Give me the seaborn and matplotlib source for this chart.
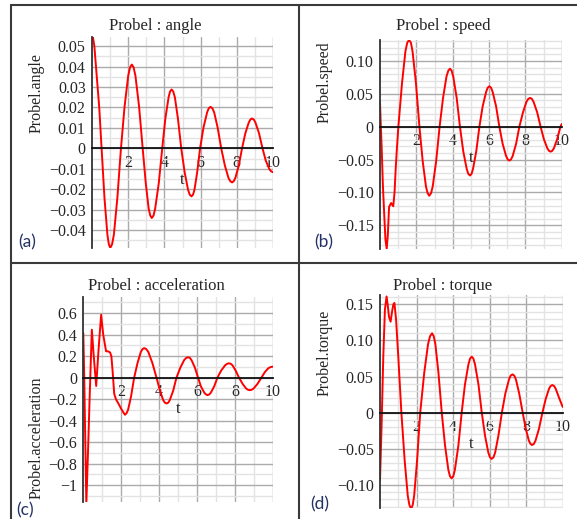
import matplotlib
matplotlib.use("Agg")
import matplotlib.pyplot as plt
import seaborn as sns
from matplotlib.lines import Line2D
from matplotlib.ticker import FixedLocator

sns.set_style("white")
plt.rcParams["font.family"] = ["Liberation Serif", "DejaVu Serif"]

# values (one half swing per line)
t_angle = [0.00, 0.05, 0.13, 0.22, 0.40, 0.53,
           0.69, 0.85, 0.93, 1.01, 1.11, 1.21, 1.40, 1.60,
           1.80, 2.00, 2.10, 2.20, 2.30, 2.40, 2.60, 2.80,
           2.97, 3.13, 3.22, 3.30, 3.40, 3.49, 3.69, 3.88,
           4.05, 4.23, 4.31, 4.40, 4.49, 4.58, 4.75, 4.93,
           5.12, 5.31, 5.40, 5.50, 5.58, 5.66, 5.81, 5.97,
           6.16, 6.36, 6.45, 6.55, 6.65, 6.75, 6.94, 7.14,
           7.34, 7.54, 7.64, 7.74, 7.83, 7.92, 8.11, 8.29,
           8.47, 8.66, 8.75, 8.84, 8.94, 9.03, 9.23, 9.42,
           9.60, 9.80, 9.90, 10.00]
angle = [0.0535, 0.0545, 0.0500, 0.0400, 0.0200, 0.0000,
         -0.0244, -0.0422, -0.0470, -0.0487, -0.0470, -0.0422, -0.0244, 0.0000,
         0.0205, 0.0355, 0.0396, 0.0410, 0.0396, 0.0355, 0.0205, 0.0000,
         -0.0170, -0.0295, -0.0329, -0.0341, -0.0329, -0.0295, -0.0170, 0.0000,
         0.0144, 0.0249, 0.0278, 0.0288, 0.0278, 0.0249, 0.0144, 0.0000,
         -0.0118, -0.0204, -0.0227, -0.0235, -0.0227, -0.0204, -0.0118, 0.0000,
         0.0102, 0.0176, 0.0196, 0.0203, 0.0196, 0.0176, 0.0102, 0.0000,
         -0.0084, -0.0145, -0.0161, -0.0167, -0.0161, -0.0145, -0.0084, 0.0000,
         0.0073, 0.0126, 0.0141, 0.0146, 0.0141, 0.0126, 0.0073, 0.0000,
         -0.0060, -0.0102, -0.0113, -0.0117]

t_speed = [0.00, 0.03, 0.09, 0.16, 0.24, 0.30, 0.37, 0.43, 0.50, 0.61, 0.73, 0.80, 0.86, 0.93, 1.01,
           1.21, 1.40, 1.50, 1.60, 1.70, 1.79, 1.98, 2.17,
           2.35, 2.53, 2.62, 2.71, 2.81, 2.90, 3.09, 3.28,
           3.47, 3.66, 3.76, 3.85, 3.94, 4.03, 4.22, 4.40,
           4.58, 4.77, 4.86, 4.95, 5.04, 5.12, 5.30, 5.47,
           5.65, 5.84, 5.93, 6.02, 6.11, 6.20, 6.39, 6.57,
           6.75, 6.94, 7.03, 7.12, 7.21, 7.30, 7.49, 7.67,
           7.87, 8.06, 8.16, 8.26, 8.36, 8.45, 8.65, 8.84,
           9.02, 9.21, 9.30, 9.39, 9.48, 9.57, 9.75, 9.93, 10.00]
speed = [0.038, 0.012, -0.030, -0.090, -0.138, -0.172, -0.186, -0.165, -0.122, -0.116, -0.121,
         -0.100, -0.066, -0.033, 0.000,
         0.066, 0.115, 0.128, 0.132, 0.128, 0.115, 0.066, 0.000,
         -0.0525, -0.091, -0.101, -0.105, -0.101, -0.091, -0.0525, 0.000,
         0.044, 0.0766, 0.0854, 0.0884, 0.0854, 0.0766, 0.044, 0.000,
         -0.037, -0.064, -0.0717, -0.0742, -0.0717, -0.064, -0.037, 0.000,
         0.031, 0.053, 0.0595, 0.0616, 0.0595, 0.053, 0.031, 0.000,
         -0.026, -0.0446, -0.0497, -0.0515, -0.0497, -0.0446, -0.026, 0.000,
         0.022, 0.038, 0.0424, 0.0439, 0.0424, 0.038, 0.022, 0.000,
         -0.019, -0.0328, -0.0366, -0.0379, -0.0366, -0.0328, -0.019, 0.000, 0.004]

t_acc = [0.00, 0.05, 0.10, 0.16, 0.25, 0.33, 0.45, 0.55, 0.68, 0.80, 0.94, 1.05, 1.20, 1.30,
         1.41, 1.48, 1.55, 1.63, 1.72, 1.85, 2.00, 2.10, 2.20, 2.28, 2.36, 2.52, 2.68,
         2.86, 3.03, 3.12, 3.21, 3.32, 3.43, 3.64, 3.86,
         4.04, 4.21, 4.30, 4.39, 4.48, 4.56, 4.74, 4.91,
         5.12, 5.32, 5.43, 5.53, 5.62, 5.70, 5.88, 6.05,
         6.20, 6.38, 6.47, 6.55, 6.64, 6.72, 6.90, 7.07,
         7.27, 7.48, 7.58, 7.68, 7.77, 7.86, 8.03, 8.21,
         8.40, 8.58, 8.68, 8.77, 8.88, 8.98, 9.18, 9.39,
         9.57, 9.76, 9.88, 10.00]
acc = [0.415, 0.00, -0.55, -1.17, -0.68, -0.21, 0.446, 0.20, -0.077, 0.25, 0.585, 0.40, 0.246, 0.245,
       0.235, 0.20, 0.05, -0.15, -0.20, -0.24, -0.29, -0.32, -0.345, -0.33, -0.299, -0.172, 0.000,
       0.1375, 0.238, 0.266, 0.275, 0.266, 0.238, 0.1375, 0.000,
       -0.120, -0.208, -0.232, -0.240, -0.232, -0.208, -0.120, 0.000,
       0.095, 0.165, 0.184, 0.190, 0.184, 0.165, 0.095, 0.000,
       -0.081, -0.140, -0.156, -0.162, -0.156, -0.140, -0.081, 0.000,
       0.067, 0.116, 0.129, 0.134, 0.129, 0.116, 0.067, 0.000,
       -0.058, -0.100, -0.112, -0.116, -0.112, -0.100, -0.058, 0.000,
       0.052, 0.089, 0.099, 0.103]

t_torque = [0.00, 0.09, 0.18, 0.27, 0.36, 0.42, 0.49, 0.58, 0.66, 0.73, 0.79, 0.88, 1.00, 1.17,
            1.35, 1.52, 1.61, 1.70, 1.79, 1.87, 2.03, 2.20,
            2.42, 2.63, 2.74, 2.85, 2.94, 3.03, 3.20, 3.38,
            3.56, 3.74, 3.83, 3.92, 4.01, 4.10, 4.29, 4.47,
            4.65, 4.84, 4.93, 5.02, 5.11, 5.20, 5.39, 5.57,
            5.75, 5.93, 6.02, 6.11, 6.21, 6.30, 6.48, 6.67,
            6.86, 7.06, 7.15, 7.25, 7.35, 7.44, 7.62, 7.81,
            7.98, 8.15, 8.24, 8.32, 8.42, 8.51, 8.70, 8.89,
            9.07, 9.25, 9.34, 9.43, 9.53, 9.62, 9.81, 10.00]
torque = [-0.0935, -0.015, 0.078, 0.143, 0.161, 0.150, 0.133, 0.126, 0.140, 0.150, 0.152, 0.129,
          0.078, 0.000,
          -0.066, -0.115, -0.128, -0.133, -0.128, -0.115, -0.066, 0.000,
          0.055, 0.095, 0.106, 0.110, 0.106, 0.095, 0.055, 0.000,
          -0.0455, -0.079, -0.088, -0.091, -0.088, -0.079, -0.0455, 0.000,
          0.039, 0.067, 0.075, 0.0776, 0.075, 0.067, 0.039, 0.000,
          -0.032, -0.0554, -0.0618, -0.064, -0.0618, -0.0554, -0.032, 0.000,
          0.0265, 0.046, 0.0513, 0.0531, 0.0513, 0.046, 0.0265, 0.000,
          -0.0224, -0.0388, -0.0433, -0.0448, -0.0433, -0.0388, -0.0224, 0.000,
          0.019, 0.033, 0.037, 0.0383, 0.037, 0.033, 0.020, 0.008]

x_ticks = [2, 4, 6, 8, 10]
x_ticklabels = ["2", "4", "6", "8", "10"]

angle_ticks = [-0.04, -0.03, -0.02, -0.01, 0, 0.01, 0.02, 0.03, 0.04, 0.05]
angle_ticklabels = ["\u22120.04", "\u22120.03", "\u22120.02", "\u22120.01", "0",
                    "0.01", "0.02", "0.03", "0.04", "0.05"]
speed_ticks = [-0.15, -0.10, -0.05, 0, 0.05, 0.10]
speed_ticklabels = ["\u22120.15", "\u22120.10", "\u22120.05", "0", "0.05", "0.10"]
acc_ticks = [-1.0, -0.8, -0.6, -0.4, -0.2, 0, 0.2, 0.4, 0.6]
acc_ticklabels = ["\u22121", "\u22120.8", "\u22120.6", "\u22120.4", "\u22120.2", "0",
                  "0.2", "0.4", "0.6"]
torque_ticks = [-0.10, -0.05, 0, 0.05, 0.10, 0.15]
torque_ticklabels = ["\u22120.10", "\u22120.05", "0", "0.05", "0.10", "0.15"]

W, H = 577, 519


def minor_positions(lo, hi, step, ratio):
    # grid positions between the major ones
    k0 = int(lo / step) - 1
    k1 = int(hi / step) + 1
    return [k * step for k in range(k0, k1 + 1) if k % ratio != 0 and lo <= k * step <= hi]


panels = [
    dict(t=t_angle, y=angle, name="angle", box=(92, 37, 273, 248), ylim=(-0.0488, 0.0545),
         ticks=angle_ticks, labels=angle_ticklabels, step=0.005, ratio=2,
         ylab=(-0.304, 0.735), title=(155, 26.5), tag="(a)", tag_xy=(27, 242)),
    dict(t=t_speed, y=speed, name="speed", box=(380, 40, 561.7, 249), ylim=(-0.186, 0.132),
         ticks=speed_ticks, labels=speed_ticklabels, step=0.01, ratio=5,
         ylab=(-0.303, 0.80), title=(443, 26.5), tag="(b)", tag_xy=(324, 242)),
    dict(t=t_acc, y=acc, name="acceleration", box=(83.3, 296.7, 273, 501.7), ylim=(-1.153, 0.753),
         ticks=acc_ticks, labels=acc_ticklabels, step=0.1, ratio=2,
         ylab=(-0.246, 0.311), title=(156, 286), tag="(c)", tag_xy=(25, 510)),
    dict(t=t_torque, y=torque, name="torque", box=(380, 295, 562.7, 508), ylim=(-0.132, 0.163),
         ticks=torque_ticks, labels=torque_ticklabels, step=0.01, ratio=5,
         ylab=(-0.301, 0.73), title=(443, 286), tag="(d)", tag_xy=(320, 504)),
]

fig = plt.figure(figsize=(W / 100, H / 100), dpi=100)

for p in panels:
    l, top, r, b = p["box"]
    ax = fig.add_axes([l / W, 1 - b / H, (r - l) / W, (b - top) / H])
    sns.lineplot(x=p["t"], y=p["y"], ax=ax, color="#ff0000", linewidth=1.4,
                 sort=False, estimator=None)
    ax.set_xlim(0, 10)
    ax.set_ylim(*p["ylim"])

    ax.xaxis.set_major_locator(FixedLocator(x_ticks))
    ax.set_xticklabels(x_ticklabels)
    ax.xaxis.set_minor_locator(FixedLocator([1, 3, 5, 7, 9]))
    ax.yaxis.set_major_locator(FixedLocator(p["ticks"]))
    ax.set_yticklabels(p["labels"])
    ax.yaxis.set_minor_locator(FixedLocator(minor_positions(p["ylim"][0], p["ylim"][1],
                                                            p["step"], p["ratio"])))
    ax.grid(which="major", color="#ababab", linewidth=1.0)
    ax.grid(which="minor", color="#e3e3e3", linewidth=1.0)
    ax.set_axisbelow(True)

    for s in ("top", "right"):
        ax.spines[s].set_visible(False)
    ax.spines["left"].set_color("#333333")
    ax.spines["left"].set_linewidth(1.3)
    ax.spines["bottom"].set_position(("data", 0))
    ax.spines["bottom"].set_color("#111111")
    ax.spines["bottom"].set_linewidth(1.3)
    ax.tick_params(which="both", length=0, labelsize=11.5, pad=4.5)

    ax.set_xlabel("")
    ax.set_ylabel("")
    ax.annotate("t", xy=(5, 0), xycoords="data", xytext=(0, -22.5), textcoords="offset points",
                ha="center", va="center", fontsize=12)
    ax.text(p["ylab"][0], p["ylab"][1], "Probel." + p["name"], transform=ax.transAxes,
            rotation=90, ha="center", va="center", fontsize=11.5)

    fig.text(p["title"][0] / W, 1 - p["title"][1] / H, "Probel : " + p["name"],
             ha="center", va="center", fontsize=12)
    fig.text(p["tag_xy"][0] / W, 1 - p["tag_xy"][1] / H, p["tag"], ha="center", va="center",
             fontsize=12.5, color="#243165", family=["Lato", "DejaVu Sans"])

# panel frame
frame = dict(color="#3a3a3a", linewidth=1.5, transform=fig.transFigure)
fig.add_artist(Line2D([11 / W, 1], [1 - 5 / H, 1 - 5 / H], **frame))
fig.add_artist(Line2D([11.5 / W, 11.5 / W], [0, 1 - 5 / H], **frame))
fig.add_artist(Line2D([299.5 / W, 299.5 / W], [0, 1 - 5 / H], **frame))
fig.add_artist(Line2D([11 / W, 1], [1 - 263 / H, 1 - 263 / H], **frame))

fig.savefig("out.png", dpi=100)
